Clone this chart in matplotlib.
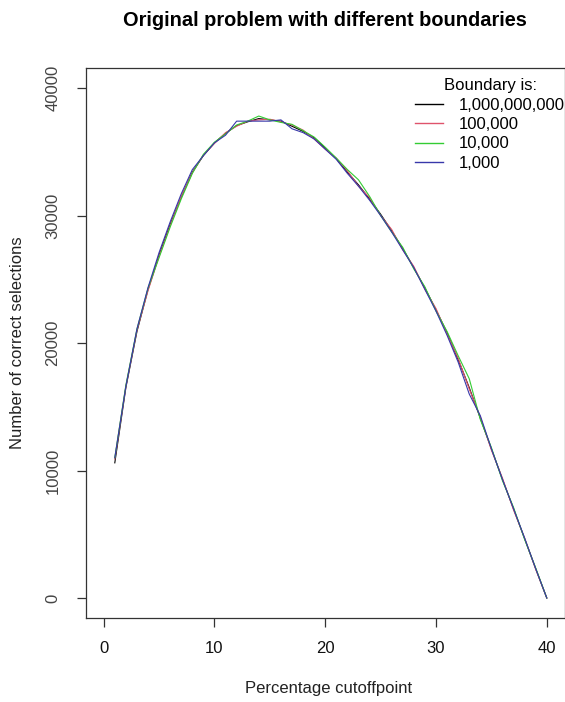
import matplotlib
matplotlib.use("Agg")
import matplotlib.pyplot as plt

plt.rcParams['font.family'] = ['Liberation Sans', 'DejaVu Sans']

cutoff = list(range(1, 41))

b_1e9 = [10600, 16500, 20900, 24200, 26900, 29300, 31450, 33400, 34700, 35700,
         36450, 37050, 37350, 37600, 37500, 37400, 37000, 36600, 36100, 35300,
         34450, 33400, 32400, 31300, 30100, 28800, 27400, 25900, 24300, 22600,
         20800, 18700, 16500, 14100, 11700, 9300, 7000, 4650, 2300, 0]
b_1e5 = [10900, 16600, 21000, 24100, 26800, 29200, 31500, 33350, 34750, 35650,
         36500, 37000, 37400, 37500, 37550, 37350, 37100, 36700, 36000, 35200,
         34500, 33500, 32300, 31400, 30000, 28900, 27300, 26000, 24200, 22700,
         20700, 18800, 16400, 14200, 11600, 9400, 6900, 4700, 2250, 0]
b_1e4 = [11000, 16700, 21100, 24300, 26700, 29100, 31300, 33300, 34800, 35750,
         36400, 37100, 37400, 37800, 37500, 37300, 37150, 36650, 36150, 35350,
         34500, 33600, 32800, 31500, 30000, 28700, 27500, 25800, 24400, 22500,
         20900, 19000, 17200, 14000, 11800, 9200, 7100, 4600, 2350, 0]
b_1e3 = [11000, 16600, 21100, 24350, 27100, 29500, 31700, 33600, 34700, 35700,
         36300, 37400, 37400, 37400, 37400, 37500, 36800, 36500, 36000, 35200,
         34400, 33300, 32300, 31200, 30000, 28700, 27300, 25900, 24200, 22500,
         20600, 18500, 16000, 14300, 11700, 9300, 7000, 4700, 2300, 0]

series_labels = ["1,000,000,000", "100,000", "10,000", "1,000"]
series_values = [b_1e9, b_1e5, b_1e4, b_1e3]
series_colors = ["black", "#DF536B", "#33CC33", "#3838AA"]

x_ticks = [0, 10, 20, 30, 40]
y_ticks = [0, 10000, 20000, 30000, 40000]

W, H = 565, 702
fig = plt.figure(figsize=(W / 100, H / 100), dpi=100)
left, right, top, bottom = 86, 564.5, 67.6, 618.4
ax = fig.add_axes([left / W, 1 - bottom / H, (right - left) / W, (bottom - top) / H])

handles = []
for vals, lab, col in zip(series_values, series_labels, series_colors):
    h, = ax.plot(cutoff, vals, color=col, lw=0.8, label=lab)
    handles.append(h)

ax.set_xlim(-1.6, 41.6)
ax.set_ylim(-1600, 41600)
ax.set_xticks(x_ticks)
ax.set_yticks(y_ticks)
ax.set_xticklabels([str(t) for t in x_ticks])
ax.set_yticklabels([str(t) for t in y_ticks], rotation=90, va='center')

for s in ax.spines.values():
    s.set_linewidth(0.9)
    s.set_color('#333333')
ax.tick_params(axis='both', direction='out', length=6.5, width=0.9,
               color='#333333', labelsize=12)
ax.tick_params(axis='x', pad=10, labelcolor='#111111')
ax.tick_params(axis='y', pad=12, labelcolor='#444444')

ax.set_xlabel("Percentage cutoffpoint", fontsize=12, color='#222222')
ax.xaxis.set_label_coords((329 - left) / (right - left), (bottom - 688) / (bottom - top))
ax.xaxis.label.set_va('center')
ax.set_ylabel("Number of correct selections", fontsize=12, color='#222222')
ax.yaxis.set_label_coords((18 - left) / (right - left), 0.5)
ax.yaxis.label.set_va('center')

ax.set_title("Original problem with different boundaries", fontsize=14.4,
             fontweight='bold', y=(bottom - 21) / (bottom - top), va='center', pad=0)

leg = ax.legend(handles=handles, labels=series_labels, title="Boundary is:",
                frameon=False, fontsize=12, title_fontsize=12,
                loc='upper left',
                bbox_to_anchor=((415 - left) / (right - left), (bottom - 78) / (bottom - top)),
                borderaxespad=0, borderpad=0, handlelength=1.7, handletextpad=0.95,
                labelspacing=0.27)
for lh in leg.get_lines():
    lh.set_linewidth(1.0)

fig.savefig("out.png", dpi=100)
